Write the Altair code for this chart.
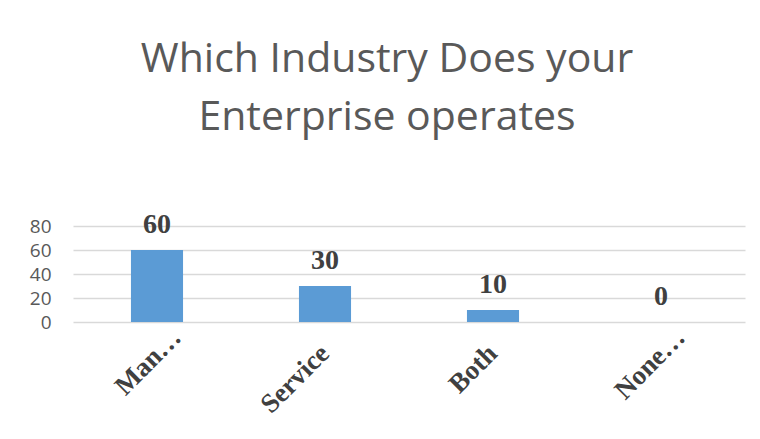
import altair as alt
import pandas as pd

categories = ["Man…", "Service", "Both", "None…"]
values = [60, 30, 10, 0]

df = pd.DataFrame({"category": categories, "value": values})

trunc_test = "indexof(datum.label, '…') >= 0"

base = alt.Chart(df).encode(
    x=alt.X("category:N", sort=categories, title=None,
            scale=alt.Scale(paddingInner=0.69, paddingOuter=0.345),
            axis=alt.Axis(labelAngle=-45, labelAlign="right", labelBaseline="middle",
                          labelFont="Liberation Serif", labelFontWeight="bold",
                          labelFontSize=27, labelColor="#404040",
                          labelPadding={"condition": {"test": trunc_test, "value": 11}, "value": 27},
                          labelOffset={"condition": {"test": trunc_test, "value": 20}, "value": 0},
                          ticks=False, domain=False, grid=False)),
    y=alt.Y("value:Q", title=None,
            scale=alt.Scale(domain=[0, 80]),
            axis=alt.Axis(values=[0, 20, 40, 60, 80], labelFont="Open Sans",
                          labelFontSize=19, labelColor="#595959", labelPadding=22,
                          ticks=False, domain=False, gridColor="#d9d9d9", gridWidth=1.4)),
)

bars = base.mark_bar(color="#5b9bd5")
labels = base.mark_text(baseline="alphabetic", dy=-17, font="Liberation Serif",
                        fontWeight="bold", fontSize=28, color="#404040").encode(
    text=alt.Text("value:Q"))

chart = (bars + labels).properties(
    width=672, height=96,
    background="white",
    title=alt.TitleParams(["Which Industry Does your", "Enterprise operates"],
                          font="Open Sans", fontSize=41, fontWeight="normal",
                          color="#595959", lineHeight=58, anchor="middle",
                          offset=72, dx=-22),
    autosize=alt.AutoSizeParams(type="none"),
    padding={"left": 73, "top": 226, "right": 15, "bottom": 117},
).configure_view(strokeWidth=0)

chart.save("out.html", embed_options={"renderer": "svg", "actions": False})
